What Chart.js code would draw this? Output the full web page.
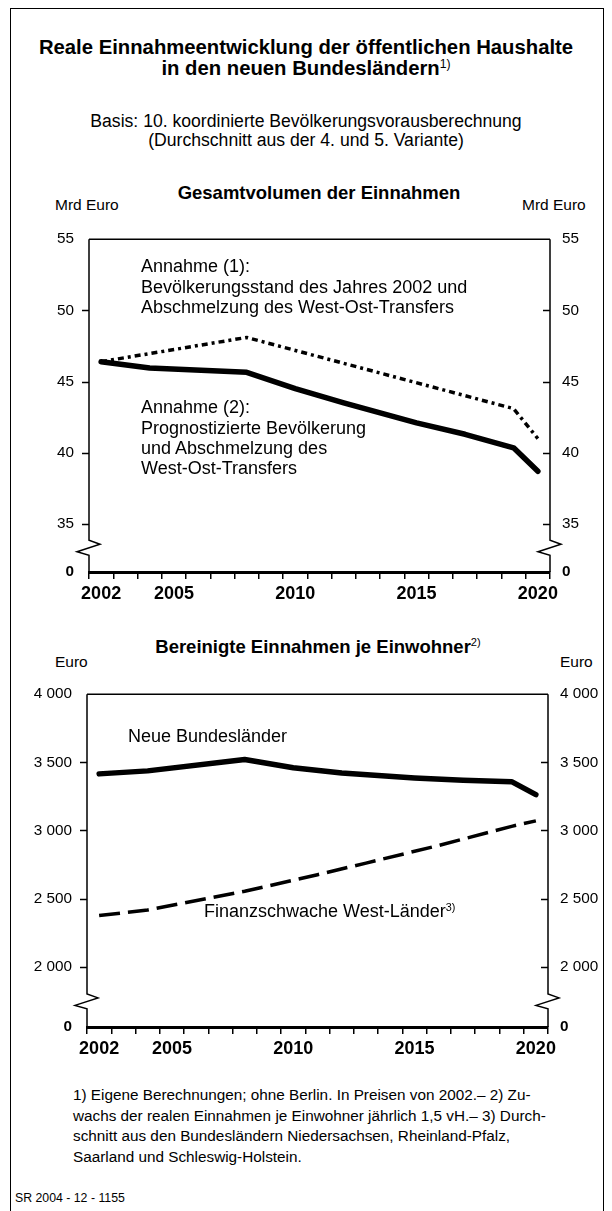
<!doctype html>
<html lang="de">
<head>
<meta charset="utf-8">
<script src="https://cdn.jsdelivr.net/npm/chart.js@4"></script>
<style>
*{box-sizing:border-box}
html,body{margin:0;padding:0;background:#fff}
body{width:612px;height:1211px;position:relative;overflow:hidden;font-family:"Liberation Sans",Arial,Helvetica,sans-serif;color:#000}
.frame{position:absolute;left:10px;top:8px;width:594px;height:1260px;border:1.5px solid #000}
.t{position:absolute;white-space:nowrap;transform:translateY(-50%);line-height:1}
.c{transform:translate(-50%,-50%)}
.b{font-weight:bold}
.lab{font-size:18px}
.fn{font-size:15.3px}
sup{font-size:0.6em;font-weight:normal;vertical-align:0.6em;line-height:0}
canvas{position:absolute;left:0}
</style>
</head>
<body>
<div class="frame"></div>

<div class="t c b" style="left:306px;top:47px;font-size:20.3px">Reale Einnahmeentwicklung der öffentlichen Haushalte</div>
<div class="t c b" style="left:306px;top:68px;font-size:20.3px">in den neuen Bundesländern<sup>1)</sup></div>
<div class="t c" style="left:306px;top:122px;font-size:17.6px">Basis: 10. koordinierte Bevölkerungsvorausberechnung</div>
<div class="t c" style="left:306px;top:141px;font-size:17.6px">(Durchschnitt aus der 4. und 5. Variante)</div>

<!-- chart 1 -->
<div class="t c b" style="left:319px;top:193px;font-size:18.5px">Gesamtvolumen der Einnahmen</div>
<div class="t" style="left:55px;top:205px;font-size:15.5px">Mrd Euro</div>
<div class="t" style="left:522px;top:205px;font-size:15.5px">Mrd Euro</div>
<canvas id="c1" width="612" height="400" style="top:215px"></canvas>
<div class="t lab" style="left:141px;top:266px">Annahme (1):</div>
<div class="t lab" style="left:141px;top:287px">Bevölkerungsstand des Jahres 2002 und</div>
<div class="t lab" style="left:141px;top:307px">Abschmelzung des West-Ost-Transfers</div>
<div class="t lab" style="left:141px;top:407px">Annahme (2):</div>
<div class="t lab" style="left:141px;top:428px">Prognostizierte Bevölkerung</div>
<div class="t lab" style="left:141px;top:448px">und Abschmelzung des</div>
<div class="t lab" style="left:141px;top:468px">West-Ost-Transfers</div>

<!-- chart 2 -->
<div class="t c b" style="left:318px;top:647px;font-size:18.5px">Bereinigte Einnahmen je Einwohner<sup>2)</sup></div>
<div class="t" style="left:55px;top:662px;font-size:15.5px">Euro</div>
<div class="t" style="left:560px;top:662px;font-size:15.5px">Euro</div>
<canvas id="c2" width="612" height="400" style="top:670px"></canvas>
<div class="t lab" style="left:128px;top:736px">Neue Bundesländer</div>
<div class="t lab" style="left:204px;top:911px">Finanzschwache West-Länder<sup>3)</sup></div>

<div class="t fn" style="left:73px;top:1095px">1) Eigene Berechnungen; ohne Berlin. In Preisen von 2002.– 2) Zu-</div>
<div class="t fn" style="left:73px;top:1116px">wachs der realen Einnahmen je Einwohner jährlich 1,5 vH.– 3) Durch-</div>
<div class="t fn" style="left:73px;top:1136px">schnitt aus den Bundesländern Niedersachsen, Rheinland-Pfalz,</div>
<div class="t fn" style="left:73px;top:1157px">Saarland und Schleswig-Holstein.</div>
<div class="t" style="left:15px;top:1198px;font-size:12.3px">SR 2004 - 12 - 1155</div>

<script>
// categories
const years = [2002,2003,2004,2005,2006,2007,2008,2009,2010,2011,2012,2013,2014,2015,2016,2017,2018,2019,2020];
const shownYears = [2002,2005,2010,2015,2020];

// Gesamtvolumen, Mrd Euro (null = no kink read there)
const annahme1 = [46.4,null,null,null,null,null,48.1,null,null,null,null,null,null,null,null,null,null,43.1,41.0];
const annahme2 = [46.4,null,45.95,null,null,null,45.65,null,44.5,null,43.5,null,null,42.1,null,41.3,null,40.35,38.7];
const ticks1 = [35,40,45,50,55];

// je Einwohner, Euro
const neueLaender = [3415,null,3437,null,null,null,3521,null,3460,null,3422,null,null,3385,null,3368,null,3358,3263];
const westLaender = [2375,null,2416,null,null,null,2553,null,null,2675,null,2760,null,null,2890,null,null,3030,3070];
const ticks2 = [2000,2500,3000,3500,4000];

const FONT = '"Liberation Sans", Arial, Helvetica, sans-serif';

// axis frame: top line, broken vertical axes with zigzag, inward ticks
const axisFrame = {
  id: 'axisFrame',
  afterDraw(chart, args, o){
    const {ctx, chartArea:a} = chart;
    const y = chart.scales.y;
    const yb = y.getPixelForValue(o.breakAt);
    ctx.save();
    ctx.strokeStyle = '#000'; ctx.lineWidth = 1.5;
    ctx.beginPath(); ctx.moveTo(a.left, a.top); ctx.lineTo(a.right, a.top); ctx.stroke();
    for (const x of [a.left, a.right]){
      ctx.beginPath();
      ctx.moveTo(x, a.top); ctx.lineTo(x, yb);
      ctx.lineTo(x + 11, yb + 4); ctx.lineTo(x - 12, yb + 11.5); ctx.lineTo(x, yb + 15);
      ctx.lineTo(x, a.bottom);
      ctx.stroke();
      y.ticks.forEach(t => {
        if (t.value === y.min || t.value === y.max) return;
        const py = Math.round(y.getPixelForValue(t.value)) + 0.5;
        ctx.beginPath(); ctx.moveTo(x - 7, py); ctx.lineTo(x, py); ctx.stroke();
      });
    }
    ctx.restore();
  }
};

function fmt(v){ return String(v).replace(/\B(?=(\d{3})+(?!\d))/g, ' '); }

function makeChart(id, sets, tickVals, min, max, breakAt, leftW, rightW){
  const yScale = (pos, w) => ({
    type: 'linear', position: pos, min: min, max: max,
    afterBuildTicks: s => { s.ticks = [{value:min}].concat(tickVals.map(v => ({value:v}))); },
    afterFit: s => { s.width = w; },
    grid: { display:false, drawTicks:false },
    border: { display:false },
    ticks: {
      padding: pos === 'left' ? 15 : 12,
      color: '#000',
      font: c => ({ family: FONT, size: 15.3, weight: (c.tick && c.tick.value === min) ? 'bold' : 'normal' }),
      callback: v => v === min ? '0' : fmt(v)
    }
  });
  return new Chart(document.getElementById(id), {
    type: 'line',
    data: { labels: years, datasets: sets },
    options: {
      responsive: false, animation: false, devicePixelRatio: 1,
      layout: { padding: { top: 16, bottom: 0, left: 0, right: 0 } },
      plugins: { legend:{display:false}, tooltip:{enabled:false}, axisFrame:{ breakAt: breakAt } },
      elements: { point:{ radius:0 }, line:{ tension:0 } },
      scales: {
        x: {
          type: 'category', offset: true,
          afterFit: s => { s.height = 43; },
          grid: { offset:true, drawOnChartArea:false, drawTicks:true, tickLength:7, color:'#000', lineWidth:1.5 },
          border: { display:true, color:'#000', width:3 },
          ticks: {
            autoSkip:false, maxRotation:0, padding:4, color:'#000',
            font: { family: FONT, size: 18, weight: 'bold' },
            callback: (v, i) => shownYears.includes(years[i]) ? String(years[i]) : ''
          }
        },
        y: yScale('left', leftW),
        y2: yScale('right', rightW)
      }
    },
    plugins: [axisFrame]
  });
}

makeChart('c1', [
  { data: annahme1, spanGaps:true, borderColor:'#000', borderWidth:3.5, borderDash:[6,4,3,4] },
  { data: annahme2, spanGaps:true, borderColor:'#000', borderWidth:5.5, borderCapStyle:'round', borderJoinStyle:'round' }
], ticks1, 31.63, 55, 33.86, 89, 62);

makeChart('c2', [
  { data: westLaender, spanGaps:true, borderColor:'#000', borderWidth:3.5, borderDash:[21,8] },
  { data: neueLaender, spanGaps:true, borderColor:'#000', borderWidth:5.5, borderCapStyle:'round', borderJoinStyle:'round' }
], ticks2, 1557, 4000, 1800, 87, 64);
</script>
</body>
</html>
